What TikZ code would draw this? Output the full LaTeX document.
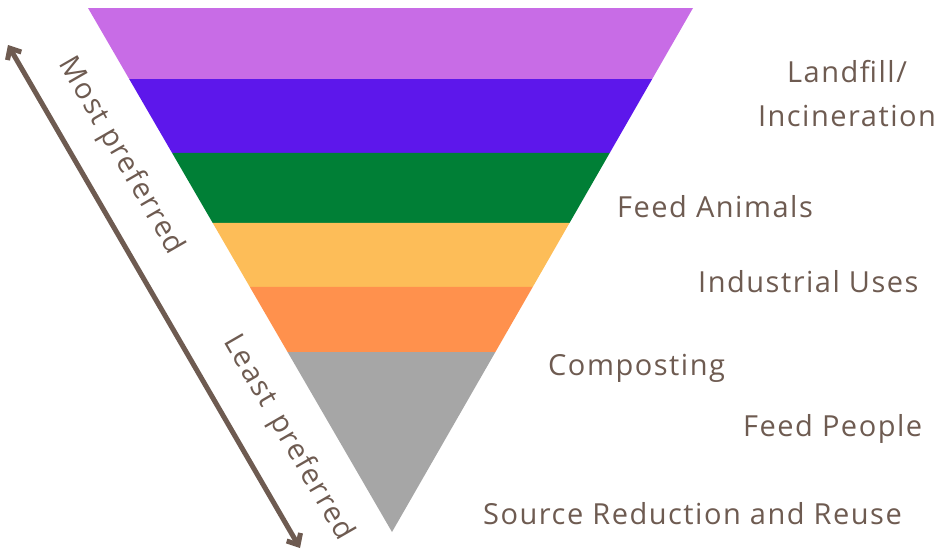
\documentclass[tikz,border=0pt]{standalone}
\usepackage{fontspec}
\setmainfont[LetterSpace=5.2]{Open Sans}
\usepackage{xcolor}
\usetikzlibrary{positioning,calc,arrows.meta}
\definecolor{landfillc}{HTML}{C86CE6}
\definecolor{incinc}{HTML}{5D17EB}
\definecolor{animalc}{HTML}{007F36}
\definecolor{industc}{HTML}{FDBD58}
\definecolor{compostc}{HTML}{FF914D}
\definecolor{sourcec}{HTML}{A6A6A6}
\definecolor{taupe}{HTML}{6E5B51}

\begin{document}
\begin{tikzpicture}
			[x=1pt, y=-1pt,
			font=\fontsize{29}{44}\selectfont,
			every node/.style={text=taupe, inner sep=0pt},
			tier/.style={anchor=base west},
			side/.style={rotate=-60, anchor=center},
			]
			\useasboundingbox (0,0) rectangle (943,552);
			% corners of the funnel
			\coordinate (tl) at (88,8);
			\coordinate (tr) at (693,8);
			\coordinate (apex) at (392,532);
			% bands, top to bottom
			\foreach \a/\b/\c in {0/0.1355/landfillc, 0.1355/0.2767/incinc,
				0.2767/0.4103/animalc, 0.4103/0.5324/industc,
				0.5324/0.6565/compostc, 0.6565/1/sourcec}
			\fill[\c] ($(tl)!\a!(apex)$) -- ($(tr)!\a!(apex)$)
				-- ($(tr)!\b!(apex)$) -- ($(tl)!\b!(apex)$) -- cycle;
			
			% labels on the right
			\node[anchor=base, align=center] (landfill) at (847,126) {Landfill/\\Incineration};
			\node[tier] (animals) at (617,217) {Feed Animals};
			\node[tier] (industrial) at (698,292) {Industrial Uses};
			\node[tier] (composting) at (548,375) {Composting};
			\node[tier] (people) at (743,436) {Feed People};
			\node[tier] (source) at (483,524) {Source Reduction and Reuse};
			
			% preference arrow
			\coordinate (most) at (8,45);
			\coordinate (least) at (300,548);
			\draw[taupe, line width=5pt, {Straight Barb[length=9pt,width=16pt]}-{Straight Barb[length=9pt,width=16pt]}]
				(most) -- (least);
			\node[side] (mostp) at (121,156) {Most preferred};
			\node[side] (leastp) at (288,438) {Least\, preferred};
			
		\end{tikzpicture}
\end{document}
